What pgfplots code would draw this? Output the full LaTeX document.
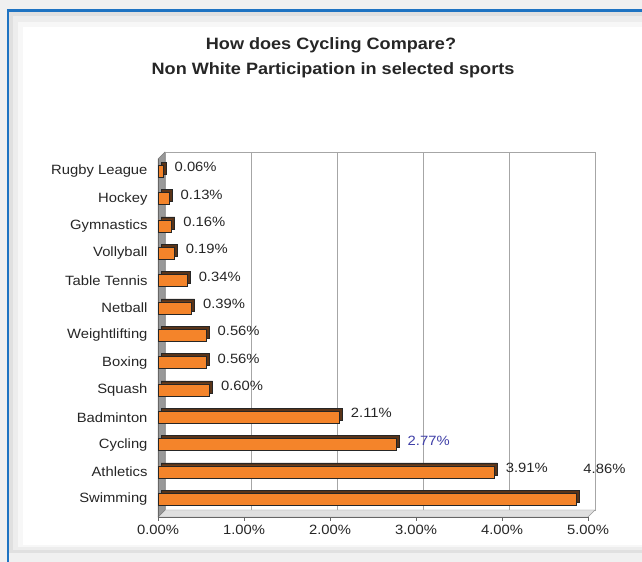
\documentclass[border=0pt]{standalone}
\usepackage{fontspec}
\setmainfont[FakeStretch=1.1]{Liberation Sans}
\usepackage{pgfplots}
\usepackage{pgfplotstable}
\pgfplotsset{compat=1.18}
\definecolor{barorange}{HTML}{F4842A}
\definecolor{bardark}{HTML}{5A3418}
\definecolor{framblue}{HTML}{1E73C2}
\definecolor{cyclblue}{HTML}{4040A8}
\pgfplotstableread{
i v
0 4.86
1 3.91
2 2.77
3 2.11
4 0.60
5 0.56
6 0.56
7 0.39
8 0.34
9 0.19
10 0.16
11 0.13
12 0.06
}\data
\pgfplotstableread{
i v
1 3.91
3 2.11
4 0.60
5 0.56
6 0.56
7 0.39
8 0.34
9 0.19
10 0.16
11 0.13
12 0.06
}\labs
\pgfplotsset{
  base/.style={scale only axis, width=430bp, height=358bp,
    xmin=0, xmax=5, ymin=-0.65, ymax=12.45, anchor=south west},
}
\begin{document}
\begin{tikzpicture}[x=1bp,y=1bp]
\useasboundingbox (0,0) rectangle (642,562);
% background and frame
\fill[black!6] (0,0) rectangle (642,562);
\fill[black!12] (9,9) rectangle (642,552);
\fill[black!7] (13,12) rectangle (642,546);
\fill[black!3] (18,15) rectangle (642,540);
\fill[white] (23,17) rectangle (642,535);
\draw[framblue, line width=2.4bp] (8,0) -- (8,551.5) -- (642,551.5);
% title
\node[font=\bfseries\fontsize{16.5}{19}\selectfont, text=black!85] at (331,517) {How does Cycling Compare?};
\node[font=\bfseries\fontsize{16.5}{19}\selectfont, text=black!85] at (333,492) {Non White Participation in selected sports};
% back wall
\begin{axis}[base, at={(165bp,52bp)}, axis line style={black!35},
  xmajorgrids, grid style={black!35}, xtick={1,2,3,4}, ytick=\empty,
  xticklabel=\empty, major tick length=0pt]
\addplot[draw=none] coordinates {(0,0)};
\end{axis}
% floor and left wall
\fill[black!12] (158,45) -- (588,45) -- (595,52) -- (165,52) -- cycle;
\draw[black!40] (158,45) -- (588,45) -- (595,52) -- (165,52) -- cycle;
\fill[black!40] (158,45) -- (165,52) -- (165,410) -- (158,403) -- cycle;
\draw[black!50] (158,45) -- (165,52) -- (165,410) -- (158,403) -- cycle;
% bar depth
\begin{axis}[base, at={(161bp,48bp)}, hide axis]
\addplot[xbar, bar width=12bp, fill=bardark, draw=black!85, line width=0.6bp] table[x=v,y=i]{\data};
\end{axis}
% front bars
\begin{axis}[base, at={(158bp,45bp)},
  axis x line*=bottom, axis y line*=left,
  axis line style={black!60},
  xtick={0,1,2,3,4,5},
  xticklabels={0.00\%,1.00\%,2.00\%,3.00\%,4.00\%,5.00\%},
  ytick={0,...,12},
  yticklabels={Swimming,Athletics,Cycling,Badminton,Squash,Boxing,Weightlifting,Netball,Table Tennis,Vollyball,Gymnastics,Hockey,Rugby League},
  tick label style={font=\fontsize{13.5}{15}\selectfont, text=black!85},
  yticklabel style={xshift=-3bp},
  xticklabel style={yshift=-1bp},
  x tick style={black!60}, y tick style={draw=none},
  tick align=outside, major tick length=4bp,
  every node near coord/.append style={anchor=west, xshift=8bp, yshift=4bp,
     font=\fontsize{13.5}{15}\selectfont, text=black!85},
  nodes near coords={\pgfmathprintnumber[assume math mode=true,fixed,fixed zerofill,precision=2]{\pgfplotspointmeta}\%},
  point meta=x]
\addplot[xbar, bar width=12bp, fill=barorange, draw=black!85, line width=0.6bp, nodes near coords=\empty] table[x=v,y=i]{\data};
\addplot[draw=none, mark=none] table[x=v,y=i]{\labs};
\addplot[draw=none, mark=none, every node near coord/.append style={text=cyclblue}] coordinates {(2.77,2)};
\addplot[draw=none, mark=none, every node near coord/.append style={xshift=-4bp, yshift=26bp}] coordinates {(4.86,0)};
\end{axis}
\end{tikzpicture}
\end{document}
